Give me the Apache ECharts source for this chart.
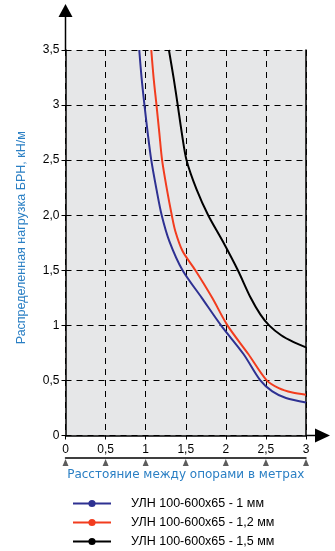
<!DOCTYPE html>
<html><head><meta charset="utf-8">
<script src="https://cdn.jsdelivr.net/npm/echarts@6/dist/echarts.min.js"></script>
<style>html,body{margin:0;padding:0;background:#fff}#c{width:335px;height:551px}</style>
</head><body><div id="c"></div>
<script>
var xTicks = [0, 0.5, 1, 1.5, 2, 2.5, 3];
var xTickLabels = ['0', '0,5', '1', '1,5', '2', '2,5', '3'];
var yTickLabels = {0:'0', 0.5:'0,5', 1:'1', 1.5:'1,5', 2:'2,0', 2.5:'2,5', 3:'3', 3.5:'3,5'};
var seriesNames = ['УЛН 100-600х65 - 1 мм', 'УЛН 100-600х65 - 1,2 мм', 'УЛН 100-600х65 - 1,5 мм'];
var blue = [[0.92,3.5],[0.95,3.24],[0.985,3.0],[1.025,2.75],[1.07,2.5],[1.135,2.235],[1.2,2.0],[1.295,1.765],[1.46,1.5],[1.70,1.25],[1.94,1.0],[2.22,0.74],[2.43,0.5],[2.58,0.40],[2.75,0.34],[3.0,0.30]];
var red = [[1.07,3.5],[1.1,3.24],[1.135,3.0],[1.17,2.75],[1.205,2.5],[1.265,2.235],[1.326,2.0],[1.37,1.855],[1.46,1.675],[1.62,1.5],[1.83,1.25],[2.02,1.0],[2.28,0.74],[2.51,0.5],[2.66,0.43],[2.83,0.39],[3.0,0.37]];
var black = [[1.29,3.5],[1.35,3.24],[1.4,3.0],[1.45,2.75],[1.51,2.5],[1.635,2.235],[1.78,2.0],[1.96,1.765],[2.15,1.5],[2.31,1.25],[2.43,1.10],[2.54,1.0],[2.69,0.91],[2.84,0.85],[3.0,0.80]];
var colors = ['#2e3192', '#f23c1e', '#000000'];
var blueText = '#2a7fc4';

var chart = echarts.init(document.getElementById('c'), null, {renderer:'canvas'});
var lineSeries = [blue, red, black].map(function(d, i){
  return {name: seriesNames[i], type:'line', data:d, smooth:0.3, symbol:'circle', symbolSize:9,
    showSymbol:false, lineStyle:{color:colors[i], width:2}, itemStyle:{color:colors[i]},
    xAxisIndex:0, yAxisIndex:0, silent:true, animation:false, z:5};
});
var opt = {
  animation:false,
  textStyle:{fontFamily:'Liberation Sans'},
  grid:[
    {left:65.5, right:29, top:50, bottom:115.5, show:true, backgroundColor:'#e6e7e8', borderWidth:0},
    {left:65.5, right:29, top:457.5, height:10, show:false}
  ],
  xAxis:[
    {type:'value', gridIndex:0, min:0, max:3, interval:0.5,
     name:'Расстояние между опорами в метрах', nameLocation:'middle', nameGap:33,
     nameTextStyle:{color:blueText, fontSize:12, fontFamily:'DejaVu Sans'},
     axisLine:{show:true, lineStyle:{color:'#000', width:1.5}},
     axisTick:{show:true, length:4, inside:false, lineStyle:{color:'#000'}},
     axisLabel:{color:'#000', fontSize:12, margin:8, formatter:function(v){var i=xTicks.indexOf(v);return i>=0?xTickLabels[i]:'';}},
     splitLine:{show:true, lineStyle:{color:'#000', type:[6,5], width:1}}},
    {type:'value', gridIndex:1, min:0, max:3, position:'top',
     axisLine:{show:true, onZero:false, lineStyle:{color:'#000', width:1.5}},
     axisTick:{show:false}, axisLabel:{show:false}, splitLine:{show:false}}
  ],
  yAxis:[
    {type:'value', gridIndex:0, min:0, max:3.5, interval:0.5,
     name:'Распределенная нагрузка БРН, кН/м', nameLocation:'middle', nameGap:37,
     nameTextStyle:{color:blueText, fontSize:12.5, fontFamily:'Liberation Sans', padding:[0,0,0,10]},
     axisLine:{show:true, lineStyle:{color:'#000', width:1.5}},
     axisTick:{show:true, length:4, lineStyle:{color:'#000'}},
     axisLabel:{color:'#000', fontSize:12, margin:6, formatter:function(v){return yTickLabels[v]!==undefined?yTickLabels[v]:'';}},
     splitLine:{show:true, lineStyle:{color:'#000', type:[6,5], width:1}}},
    {type:'value', gridIndex:0, min:0, max:3.5, interval:0.5, position:'right',
     axisLine:{show:true, lineStyle:{color:'#000', width:1.5}},
     axisTick:{show:false}, axisLabel:{show:false}, splitLine:{show:false}},
    {type:'value', gridIndex:1, min:0, max:1, show:false}
  ],
  legend:{
    orient:'vertical', left:67, top:492, height:80, itemWidth:38, itemHeight:9, itemGap:6,
    textStyle:{fontSize:12.5, color:'#000', fontFamily:'Liberation Sans', padding:[0,0,0,15]},
    data:seriesNames
  },
  series: lineSeries.concat([{
    type:'scatter', xAxisIndex:1, yAxisIndex:2, symbol:'triangle', symbolSize:[6,7],
    itemStyle:{color:'#333'}, silent:true,
    data: xTicks.map(function(x){return [x,0.5];})
  }])
};
chart.setOption(opt);

// axis arrows (decoration), positioned from library scales
var p0 = chart.convertToPixel({gridIndex:0},[0,0]);
var pTop = chart.convertToPixel({gridIndex:0},[0,3.5]);
var pRight = chart.convertToPixel({gridIndex:0},[3,0]);
chart.setOption({graphic:[
  {type:'line', shape:{x1:p0[0], y1:pTop[1], x2:p0[0], y2:16}, style:{stroke:'#000', lineWidth:1.5}},
  {type:'polygon', shape:{points:[[p0[0]-7,17],[p0[0]+7,17],[p0[0],4]]}, style:{fill:'#000'}},
  {type:'line', shape:{x1:pRight[0], y1:p0[1], x2:pRight[0]+10, y2:p0[1]}, style:{stroke:'#000', lineWidth:1.5}},
  {type:'polygon', shape:{points:[[pRight[0]+9,p0[1]-7],[pRight[0]+9,p0[1]+7],[pRight[0]+24,p0[1]]]}, style:{fill:'#000'}}
]});
</script></body></html>
